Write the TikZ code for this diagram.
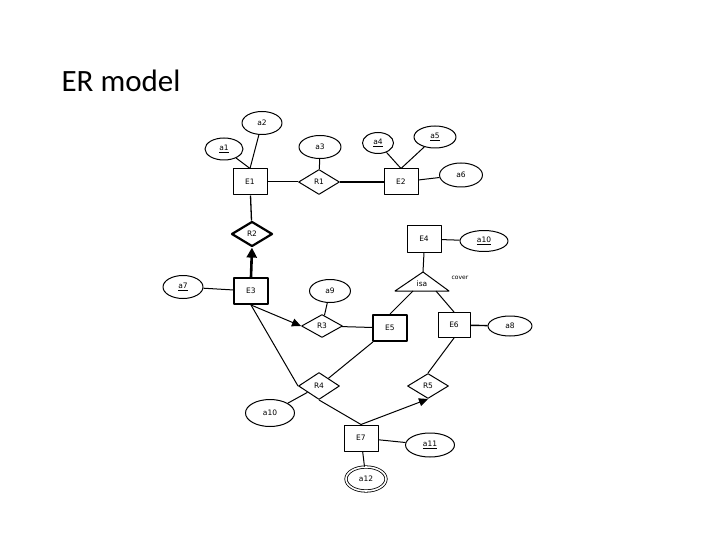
\documentclass[tikz,border=0pt]{standalone}
\usepackage{fontspec}
\setmainfont{Carlito}
\setsansfont{DejaVu Sans}
\usetikzlibrary{shapes.geometric,arrows.meta}

\tikzset{
  ent/.style={draw, rectangle, line width=1pt, minimum width=34pt, minimum height=26pt, inner sep=0pt},
  went/.style={ent, line width=2pt},
  rel/.style={draw, diamond, line width=1pt, minimum width=41pt, minimum height=25pt, inner sep=0pt},
  wrel/.style={rel, line width=2.2pt},
  attr/.style={draw, ellipse, line width=1pt, minimum width=41pt, minimum height=23pt, inner sep=0pt},
  lnk/.style={line width=1pt},
  tot/.style={line width=2.6pt},
  arr/.style={line width=1pt, -{Triangle[length=9pt,width=8pt]}}
}

\begin{document}
\begin{tikzpicture}[x=1pt, y=-1pt, font=\sffamily\fontsize{7.5}{9}\selectfont, line join=round]
  \useasboundingbox (0,0) rectangle (720,540);

  \node[anchor=base west, font=\rmfamily\fontsize{31}{36}\selectfont] (title) at (58,92) {ER model};

  % entities
  \node[ent]  (E1) at (250,182) {E1};
  \node[ent]  (E2) at (401,182) {E2};
  \node[went] (E3) at (251,291) {E3};
  \node[ent]  (E4) at (424,239) {E4};
  \node[went] (E5) at (390,328) {E5};
  \node[ent, minimum width=32pt, minimum height=25pt] (E6) at (454,325) {E6};
  \node[ent]  (E7) at (361,438) {E7};

  % relationships
  \node[rel]  (R1) at (319,182) {R1};
  \node[wrel] (R2) at (252,234) {R2};
  \node[rel, minimum height=23pt] (R3) at (322,326) {R3};
  \node[rel, minimum height=27pt] (R4) at (319,386) {R4};
  \node[rel]  (R5) at (428,386) {R5};

  % attributes
  \node[attr, minimum width=38pt, minimum height=22pt] (a1) at (224,149) {\underline{a1}};
  \node[attr, minimum width=40pt] (a2) at (262,123) {a2};
  \node[attr, minimum width=42pt] (a3) at (320,147) {a3};
  \node[attr, minimum width=31pt, minimum height=21pt] (a4) at (378,143) {\underline{a4}};
  \node[attr, minimum width=42pt, minimum height=22pt] (a5) at (435,137) {\underline{a5}};
  \node[attr, minimum width=43pt, minimum height=24pt] (a6) at (461,175) {a6};
  \node[attr, minimum width=40pt] (a7) at (183,287) {\underline{a7}};
  \node[attr, minimum width=44pt, minimum height=20pt] (a8) at (510,326) {a8};
  \node[attr] (a9) at (330,291) {a9};
  \node[attr, minimum width=48pt, minimum height=21pt] (a10) at (484,241) {\underline{a10}};
  \node[attr, minimum width=49pt, minimum height=27pt] (a10b) at (270,413) {a10};
  \node[attr, minimum width=49pt, minimum height=24pt] (a11) at (430,445) {\underline{a11}};
  \node[attr, double, double distance=1.6pt, line width=0.8pt, minimum width=40pt, minimum height=24pt] (a12) at (366,479) {a12};

  % isa triangle
  \coordinate (isaTop) at (423,272);
  \coordinate (isaL) at (395,291);
  \coordinate (isaR) at (449,291);
  \coordinate (isaBL) at (413,291);
  \coordinate (isaBR) at (436,291);
  \draw[lnk] (isaTop) -- (isaL) -- (isaR) -- cycle;
  \node (isa) at (422,284) {isa};
  \node[font=\sffamily\fontsize{6}{7}\selectfont] (cover) at (460,278) {cover};

  % connectors
  \draw[lnk] (a1) -- (E1.north);
  \draw[lnk] (a2) -- (E1.north);
  \draw[lnk] (a3) -- (R1);
  \draw[lnk] (E1) -- (R1);
  \draw[tot] (R1) -- (E2);
  \draw[lnk] (a4) -- (E2.north);
  \draw[lnk] (a5) -- (E2.north);
  \draw[lnk] (a6) -- (E2);
  \draw[line width=1.3pt] (E1) -- (R2);
  \draw[tot, -{Triangle[length=10pt,width=10pt]}] (E3.north) -- (R2.south);
  \draw[lnk] (a7) -- (E3);
  \draw[arr] (E3.south) -- (R3.west);
  \draw[lnk] (E3.south) -- (R4.west);
  \draw[lnk] (a9) -- (R3);
  \draw[lnk] (R3) -- (E5);
  \draw[lnk] (E4) -- (a10);
  \draw[lnk] (E4.south) -- (isaTop);
  \draw[lnk] (isaBL) -- (E5.north);
  \draw[lnk] (isaBR) -- (E6.north);
  \draw[line width=1.4pt] (E6) -- (a8);
  \draw[lnk] (R4) -- (E5);
  \draw[lnk] (a10b) -- (R4);
  \draw[lnk] (E6.south) -- (R5.north);
  \draw[lnk] (R4.south) -- (E7.north);
  \draw[arr] (E7.north) -- (R5.south);
  \draw[lnk] (E7) -- (a11);
  \draw[lnk] (E7) -- (a12);
\end{tikzpicture}
\end{document}
